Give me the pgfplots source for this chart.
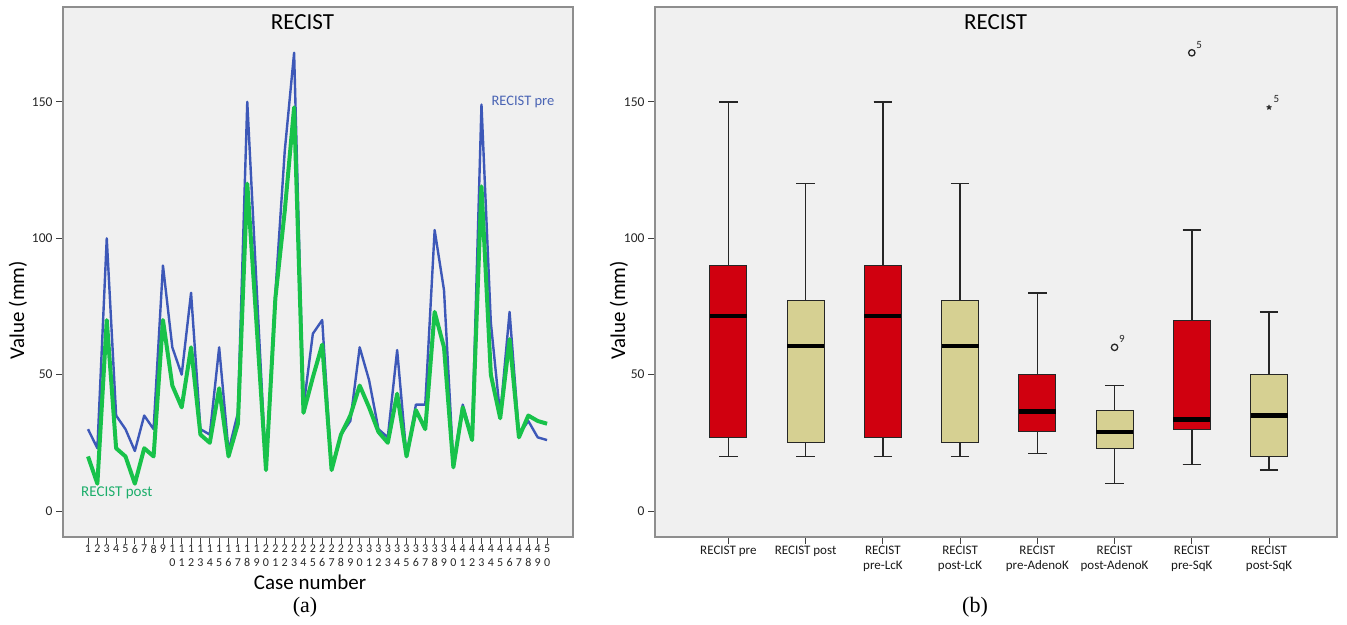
\documentclass[border=0pt]{standalone}
\usepackage{fontspec}
\setmainfont{Carlito}
\newfontfamily\timesfont{Liberation Serif}
\usepackage{pgfplots}
\usepackage{pgfplotstable}
\pgfplotsset{compat=1.18}
\usepgfplotslibrary{statistics}

\definecolor{bgc}{HTML}{F0F0F0}
\definecolor{preblue}{HTML}{3D58B8}
\definecolor{postgreen}{HTML}{18C24A}
\definecolor{lblgreen}{HTML}{1DAE6B}
\definecolor{lblblue}{HTML}{4A64B4}
\definecolor{boxred}{HTML}{D0000F}
\definecolor{boxbeige}{HTML}{D6D092}
\definecolor{framegray}{HTML}{8E8E8E}

\pgfplotstableread{
case pre post
1 30 20
2 23 10
3 100 70
4 35 23
5 30 20
6 22 10
7 35 23
8 30 20
9 90 70
10 60 46
11 50 38
12 80 60
13 30 28
14 28 25
15 60 45
16 22 20
17 36 32
18 150 120
19 82 68
20 15 15
21 80 78
22 132 110
23 168 148
24 38 36
25 65 49
26 70 61
27 15 15
28 28 28
29 33 35
30 60 46
31 48 38
32 30 29
33 27 25
34 59 43
35 20 20
36 39 37
37 39 30
38 103 73
39 81 60
40 17 16
41 39 38
42 27 26
43 149 119
44 69 50
45 35 34
46 73 63
47 28 27
48 33 35
49 27 33
50 26 32
}\recist

\pgfplotsset{
  spssaxis/.style={
    scale only axis,
    anchor=south west,
    height=530pt,
    ymin=-9.54, ymax=184.8,
    axis background/.style={fill=bgc},
    axis line style={framegray, line width=1.2pt},
    tick pos=left, tick align=outside,
    major tick length=7pt,
    tick style={black!75, line width=0.9pt},
    ytick={0,50,100,150},
    yticklabel style={font=\fontsize{13.5}{15}\selectfont, text=black!85},
    /pgf/number format/assume math mode=true,
  }
}

\begin{document}
\begin{tikzpicture}
\path[use as bounding box] (0pt,0pt) rectangle (1347pt,624pt);

% ---------- (a) line chart ----------
\begin{axis}[spssaxis,
  at={(63pt,87pt)}, width=510pt,
  xmin=-1.67, xmax=52.77,
  xtick={1,...,50},
  xticklabels={1,2,3,4,5,6,7,8,9,
    {1\\0},{1\\1},{1\\2},{1\\3},{1\\4},{1\\5},{1\\6},{1\\7},{1\\8},{1\\9},
    {2\\0},{2\\1},{2\\2},{2\\3},{2\\4},{2\\5},{2\\6},{2\\7},{2\\8},{2\\9},
    {3\\0},{3\\1},{3\\2},{3\\3},{3\\4},{3\\5},{3\\6},{3\\7},{3\\8},{3\\9},
    {4\\0},{4\\1},{4\\2},{4\\3},{4\\4},{4\\5},{4\\6},{4\\7},{4\\8},{4\\9},
    {5\\0}},
  xticklabel style={align=center, font=\fontsize{12}{14}\selectfont, text=black!85, inner sep=1pt},
]
\addplot[preblue, line width=2.4pt, line join=round] table[x=case,y=pre]{\recist};
\addplot[postgreen, line width=4pt, line join=round] table[x=case,y=post]{\recist};
\node[anchor=west, text=lblblue, font=\fontsize{14.5}{16}\selectfont] at (axis cs:43.7,150) {RECIST pre};
\node[anchor=west, text=lblgreen, font=\fontsize{15}{16}\selectfont] at (axis cs:-0.1,6.6) {RECIST post};
\node[font=\fontsize{23}{26}\selectfont] at (axis cs:23.9,179.3) {RECIST};
\end{axis}

% ---------- (b) box plot ----------
\begin{axis}[spssaxis,
  at={(655pt,87pt)}, width=682pt,
  xmin=-0.95, xmax=7.88,
  xtick={0,...,7},
  xticklabels={{RECIST pre},{RECIST post},{RECIST\\pre-LcK},{RECIST\\post-LcK},
    {RECIST\\pre-AdenoK},{RECIST\\post-AdenoK},{RECIST\\pre-SqK},{RECIST\\post-SqK}},
  xticklabel style={align=center, font=\fontsize{13}{15}\selectfont, text=black!90, inner sep=2pt},
  boxplot/draw direction=y,
  boxplot/box extend=0.48,
  boxplot/whisker extend=0.24,
  boxplot/every box/.style={draw=black!85, line width=1pt},
  boxplot/every whisker/.style={draw=black!85, line width=1.5pt},
  boxplot/every median/.style={draw=black, line width=4.5pt},
]
\addplot[fill=boxred, boxplot prepared={draw position=0, lower whisker=20, lower quartile=27, median=71.5, upper quartile=90, upper whisker=150}] coordinates {};
\addplot[fill=boxbeige, boxplot prepared={draw position=1, lower whisker=20, lower quartile=25, median=60.5, upper quartile=77, upper whisker=120}] coordinates {};
\addplot[fill=boxred, boxplot prepared={draw position=2, lower whisker=20, lower quartile=27, median=71.5, upper quartile=90, upper whisker=150}] coordinates {};
\addplot[fill=boxbeige, boxplot prepared={draw position=3, lower whisker=20, lower quartile=25, median=60.5, upper quartile=77, upper whisker=120}] coordinates {};
\addplot[fill=boxred, boxplot prepared={draw position=4, lower whisker=21, lower quartile=29, median=36.5, upper quartile=50, upper whisker=80}] coordinates {};
\addplot[fill=boxbeige, boxplot prepared={draw position=5, lower whisker=10, lower quartile=23, median=29, upper quartile=37, upper whisker=46}] coordinates {};
\addplot[fill=boxred, boxplot prepared={draw position=6, lower whisker=17, lower quartile=30, median=33.5, upper quartile=70, upper whisker=103}] coordinates {};
\addplot[fill=boxbeige, boxplot prepared={draw position=7, lower whisker=15, lower quartile=20, median=35, upper quartile=50, upper whisker=73}] coordinates {};
% outliers
\addplot[only marks, mark=o, mark size=3.2pt, line width=1.3pt, black!85,
  nodes near coords, point meta=explicit symbolic,
  every node near coord/.style={anchor=south west, font=\fontsize{11}{12}\selectfont, inner sep=0pt, xshift=4pt, yshift=4pt}]
  coordinates {(5,60) [9] (6,168) [5]};
\addplot[only marks, mark=star, mark size=2.6pt, line width=1.2pt, black!85,
  nodes near coords, point meta=explicit symbolic,
  every node near coord/.style={anchor=south west, font=\fontsize{11}{12}\selectfont, inner sep=0pt, xshift=4pt, yshift=4pt}]
  coordinates {(7,148) [5]};
\node[font=\fontsize{23}{26}\selectfont] at (axis cs:3.46,179.3) {RECIST};
\end{axis}

% axis titles and panel labels
\node[rotate=90, font=\fontsize{21}{24}\selectfont] at (18pt,314pt) {Value (mm)};
\node[rotate=90, font=\fontsize{21}{24}\selectfont] at (619pt,314pt) {Value (mm)};
\node[font=\fontsize{21}{24}\selectfont] at (310pt,42pt) {Case number};
\node[font=\timesfont\fontsize{22}{24}\selectfont] at (305pt,17pt) {(a)};
\node[font=\timesfont\fontsize{22}{24}\selectfont] at (975pt,17pt) {(b)};
\end{tikzpicture}
\end{document}
